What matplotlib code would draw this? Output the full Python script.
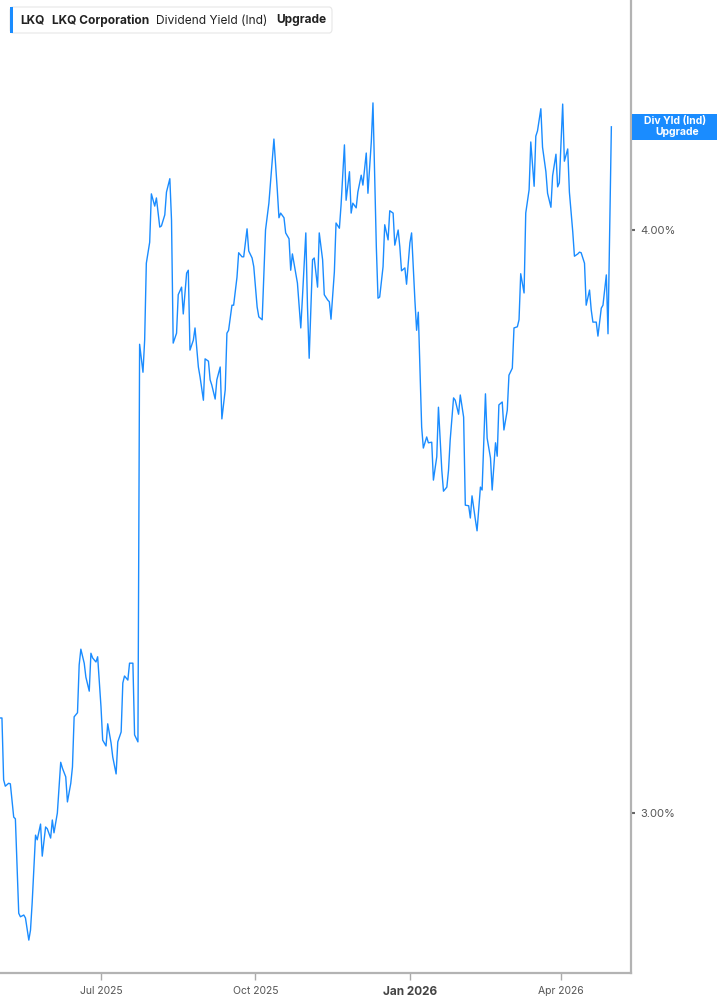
import matplotlib
matplotlib.use("Agg")
import matplotlib.pyplot as plt
import matplotlib.dates as mdates
from matplotlib.patches import FancyBboxPatch, Rectangle
import pandas as pd

# ---------------- data ----------------
obs_dates = [
    # May 2025
    "2025-05-02", "2025-05-03", "2025-05-04", "2025-05-05", "2025-05-07", "2025-05-08",
    "2025-05-10", "2025-05-11", "2025-05-13", "2025-05-14", "2025-05-16", "2025-05-17",
    "2025-05-19", "2025-05-20", "2025-05-21", "2025-05-23", "2025-05-24", "2025-05-26",
    "2025-05-27", "2025-05-29", "2025-05-30",
    # Jun 2025
    "2025-06-01", "2025-06-02", "2025-06-03", "2025-06-05", "2025-06-07", "2025-06-08",
    "2025-06-10", "2025-06-11", "2025-06-13", "2025-06-14", "2025-06-15", "2025-06-17",
    "2025-06-18", "2025-06-19", "2025-06-21", "2025-06-22", "2025-06-24", "2025-06-25",
    "2025-06-26", "2025-06-28", "2025-06-29",
    # Jul 2025
    "2025-07-01", "2025-07-02", "2025-07-04", "2025-07-05", "2025-07-07", "2025-07-08",
    "2025-07-10", "2025-07-11", "2025-07-13", "2025-07-14", "2025-07-15", "2025-07-17",
    "2025-07-18", "2025-07-20", "2025-07-21", "2025-07-23", "2025-07-24", "2025-07-26",
    "2025-07-27", "2025-07-28", "2025-07-30", "2025-07-31",
    # Aug 2025
    "2025-08-02", "2025-08-03", "2025-08-05", "2025-08-06", "2025-08-08", "2025-08-09",
    "2025-08-11", "2025-08-12", "2025-08-13", "2025-08-15", "2025-08-16", "2025-08-18",
    "2025-08-19", "2025-08-21", "2025-08-22", "2025-08-23", "2025-08-25", "2025-08-26",
    "2025-08-28", "2025-08-29", "2025-08-31",
    # Sep 2025
    "2025-09-01", "2025-09-03", "2025-09-04", "2025-09-05", "2025-09-07", "2025-09-08",
    "2025-09-10", "2025-09-11", "2025-09-13", "2025-09-14", "2025-09-15", "2025-09-17",
    "2025-09-18", "2025-09-20", "2025-09-21", "2025-09-23", "2025-09-24", "2025-09-26",
    "2025-09-27", "2025-09-29", "2025-09-30",
    # Oct 2025
    "2025-10-02", "2025-10-03", "2025-10-05", "2025-10-07", "2025-10-09", "2025-10-12",
    "2025-10-14", "2025-10-15", "2025-10-16", "2025-10-18", "2025-10-19", "2025-10-21",
    "2025-10-22", "2025-10-23", "2025-10-25", "2025-10-26", "2025-10-28", "2025-10-29",
    "2025-10-31",
    # Nov 2025
    "2025-11-01", "2025-11-02", "2025-11-04", "2025-11-05", "2025-11-07", "2025-11-08",
    "2025-11-10", "2025-11-11", "2025-11-13", "2025-11-14", "2025-11-15", "2025-11-17",
    "2025-11-18", "2025-11-20", "2025-11-21", "2025-11-23", "2025-11-24", "2025-11-26",
    "2025-11-27", "2025-11-28", "2025-11-30",
    # Dec 2025
    "2025-12-01", "2025-12-03", "2025-12-04", "2025-12-06", "2025-12-07", "2025-12-09",
    "2025-12-10", "2025-12-12", "2025-12-13", "2025-12-14", "2025-12-16", "2025-12-17",
    "2025-12-19", "2025-12-20", "2025-12-22", "2025-12-23", "2025-12-25", "2025-12-26",
    "2025-12-27", "2025-12-29", "2025-12-30",
    # Jan 2026
    "2026-01-01", "2026-01-02", "2026-01-04", "2026-01-05", "2026-01-06", "2026-01-08",
    "2026-01-09", "2026-01-11", "2026-01-12", "2026-01-14", "2026-01-15", "2026-01-17",
    "2026-01-18", "2026-01-20", "2026-01-21", "2026-01-23", "2026-01-24", "2026-01-25",
    "2026-01-27", "2026-01-28", "2026-01-30", "2026-01-31",
    # Feb 2026
    "2026-02-02", "2026-02-03", "2026-02-05", "2026-02-06", "2026-02-07", "2026-02-09",
    "2026-02-10", "2026-02-12", "2026-02-13", "2026-02-15", "2026-02-16", "2026-02-18",
    "2026-02-19", "2026-02-21", "2026-02-22", "2026-02-23", "2026-02-25", "2026-02-26",
    "2026-02-28",
    # Mar 2026
    "2026-03-01", "2026-03-03", "2026-03-04", "2026-03-06", "2026-03-07", "2026-03-08",
    "2026-03-10", "2026-03-11", "2026-03-13", "2026-03-14", "2026-03-16", "2026-03-17",
    "2026-03-18", "2026-03-20", "2026-03-21", "2026-03-23", "2026-03-24", "2026-03-26",
    "2026-03-27", "2026-03-29", "2026-03-30", "2026-03-31",
    # Apr 2026
    "2026-04-02", "2026-04-03", "2026-04-05", "2026-04-06", "2026-04-08", "2026-04-09",
    "2026-04-11", "2026-04-12", "2026-04-13", "2026-04-15", "2026-04-16", "2026-04-18",
    "2026-04-19", "2026-04-20", "2026-04-22", "2026-04-23", "2026-04-25", "2026-04-26",
    "2026-04-28", "2026-04-29",
    # May 2026
    "2026-05-01",
]

div_yield = [
    3.163, 3.163, 3.057, 3.046, 3.051, 3.050, 2.993, 2.990, 2.828, 2.822,
    2.825, 2.820, 2.782, 2.799, 2.846, 2.962, 2.954, 2.981, 2.926, 2.976,
    2.973, 2.957, 2.988, 2.966, 3.000, 3.087, 3.077, 3.062, 3.019, 3.051,
    3.079, 3.165, 3.172, 3.254, 3.281, 3.257, 3.233, 3.209, 3.274, 3.266,
    3.259, 3.268, 3.182, 3.125, 3.115, 3.153, 3.120, 3.096, 3.067, 3.122,
    3.139, 3.223, 3.235, 3.228, 3.257, 3.257, 3.134, 3.122, 3.804, 3.756,
    3.811, 3.943, 3.979, 4.062, 4.041, 4.055, 4.005, 4.007, 4.026, 4.065,
    4.088, 4.017, 3.806, 3.823, 3.889, 3.902, 3.856, 3.926, 3.931, 3.794,
    3.811, 3.832, 3.765, 3.748, 3.708, 3.779, 3.775, 3.743, 3.734, 3.710,
    3.743, 3.765, 3.676, 3.726, 3.823, 3.828, 3.871, 3.871, 3.919, 3.961,
    3.954, 3.954, 4.002, 3.964, 3.952, 3.937, 3.868, 3.851, 3.846, 4.000,
    4.046, 4.156, 4.069, 4.021, 4.029, 4.021, 3.995, 3.985, 3.931, 3.959,
    3.926, 3.909, 3.832, 3.885, 3.995, 3.868, 3.780, 3.949, 3.952, 3.902,
    3.995, 3.949, 3.889, 3.880, 3.877, 3.847, 3.928, 4.012, 4.003, 4.043,
    4.146, 4.051, 4.100, 4.029, 4.046, 4.038, 4.065, 4.094, 4.077, 4.132,
    4.063, 4.151, 4.218, 3.971, 3.883, 3.885, 3.937, 4.009, 3.983, 4.033,
    4.029, 3.974, 4.000, 3.971, 3.930, 3.935, 3.907, 3.978, 3.995, 3.878,
    3.828, 3.859, 3.662, 3.626, 3.645, 3.635, 3.636, 3.571, 3.611, 3.696,
    3.588, 3.552, 3.559, 3.588, 3.640, 3.712, 3.708, 3.684, 3.717, 3.679,
    3.528, 3.527, 3.506, 3.544, 3.503, 3.484, 3.559, 3.554, 3.719, 3.643,
    3.609, 3.554, 3.635, 3.612, 3.700, 3.705, 3.657, 3.691, 3.751, 3.763,
    3.832, 3.834, 3.846, 3.925, 3.892, 4.029, 4.069, 4.151, 4.075, 4.161,
    4.170, 4.208, 4.142, 4.100, 4.063, 4.039, 4.093, 4.130, 4.074, 4.081,
    4.216, 4.118, 4.139, 4.065, 3.997, 3.955, 3.959, 3.962, 3.961, 3.943,
    3.871, 3.897, 3.863, 3.842, 3.842, 3.818, 3.866, 3.871, 3.923, 3.822,
    4.177,
]

y_ticks = [3.0, 4.0]
y_tick_labels = ["3.00%", "4.00%"]
x_ticks = ["2025-07-01", "2025-10-01", "2026-01-01", "2026-04-01"]
x_tick_labels = ["Jul 2025", "Oct 2025", "Jan 2026", "Apr 2026"]

ticker = "LKQ"
company = "LKQ Corporation"
metric = "Dividend Yield (Ind)"
upgrade = "Upgrade"
end_label = ["Div Yld (Ind)", "Upgrade"]

# ---------------- figure ----------------
dates = pd.to_datetime(obs_dates)
n = min(len(dates), len(div_yield))
dates = dates[:n]
vals = div_yield[:n]

plt.rcParams["font.family"] = ["Inter", "DejaVu Sans"]

W, H = 717, 1005
fig = plt.figure(figsize=(W / 100, H / 100), dpi=100)
fig.patch.set_facecolor("white")


def fx(px):
    return px / W


def fy(py):
    return 1 - py / H


ax = fig.add_axes([0, fy(973), fx(631), 973 / H])
line_color = "#1a8cff"
ax.plot(dates, vals, color=line_color, lw=1.0, solid_joinstyle="round")

jul1 = mdates.date2num(pd.Timestamp("2025-07-01"))
px_per_day = (561 - 101) / 274.0
ax.set_xlim(jul1 - 101 / px_per_day, jul1 + 530 / px_per_day)
px_per_unit = 813 - 230
ax.set_ylim(4.0 - (973 - 230) / px_per_unit, 4.0 + 230 / px_per_unit)

for s in ["top", "left"]:
    ax.spines[s].set_visible(False)
for s in ["right", "bottom"]:
    ax.spines[s].set_color("#b3b3b3")
    ax.spines[s].set_linewidth(1.6)

ax.yaxis.tick_right()
ax.set_yticks(y_ticks)
ax.set_yticklabels(y_tick_labels)
ax.tick_params(axis="y", length=3, width=1.5, color="#666666", labelsize=8,
               labelcolor="#555555", pad=4)

ax.set_xticks([mdates.date2num(pd.Timestamp(d)) for d in x_ticks])
ax.set_xticklabels(x_tick_labels)
ax.tick_params(axis="x", length=5, width=1, color="#aaaaaa", labelsize=7.5,
               labelcolor="#555555", pad=4)
for lab in ax.get_xticklabels():
    if lab.get_text().startswith("Jan"):
        lab.set_fontweight("bold")
        lab.set_fontsize(8.5)
        lab.set_color("#444444")

# title box
box = FancyBboxPatch((fx(10), fy(33)), fx(332) - fx(10), fy(7) - fy(33),
                     boxstyle="round,pad=0,rounding_size=0.004",
                     transform=fig.transFigure, facecolor="white",
                     edgecolor="#e6e6e6", lw=0.8, zorder=5)
fig.patches.append(box)
bar = Rectangle((fx(10), fy(33)), fx(13) - fx(10), fy(7) - fy(33),
                transform=fig.transFigure, facecolor=line_color,
                edgecolor="none", zorder=6)
fig.patches.append(bar)

ty = fy(20.5)
fig.text(fx(20), ty, ticker, fontsize=8.6, fontweight="bold", color="#222222",
         va="center", ha="left", zorder=7)
fig.text(fx(52), ty, company, fontsize=8.6, fontweight="bold", color="#222222",
         va="center", ha="left", zorder=7)
fig.text(fx(156), ty, metric, fontsize=8.6, color="#222222",
         va="center", ha="left", zorder=7)
fig.text(fx(276), ty, upgrade, fontsize=8.6, fontweight="bold", color="#222222",
         va="center", ha="left", zorder=7)

# end label
lab_box = Rectangle((fx(632), fy(140)), fx(717) - fx(632), fy(114) - fy(140),
                    transform=fig.transFigure, facecolor=line_color,
                    edgecolor="none", zorder=5)
fig.patches.append(lab_box)
fig.text(fx(675), fy(121), end_label[0], fontsize=7.5, fontweight="bold",
         color="white", ha="center", va="center", zorder=7)
fig.text(fx(677), fy(132), end_label[1], fontsize=7.5, fontweight="bold",
         color="white", ha="center", va="center", zorder=7)

fig.savefig("out.png", dpi=100, facecolor="white")
